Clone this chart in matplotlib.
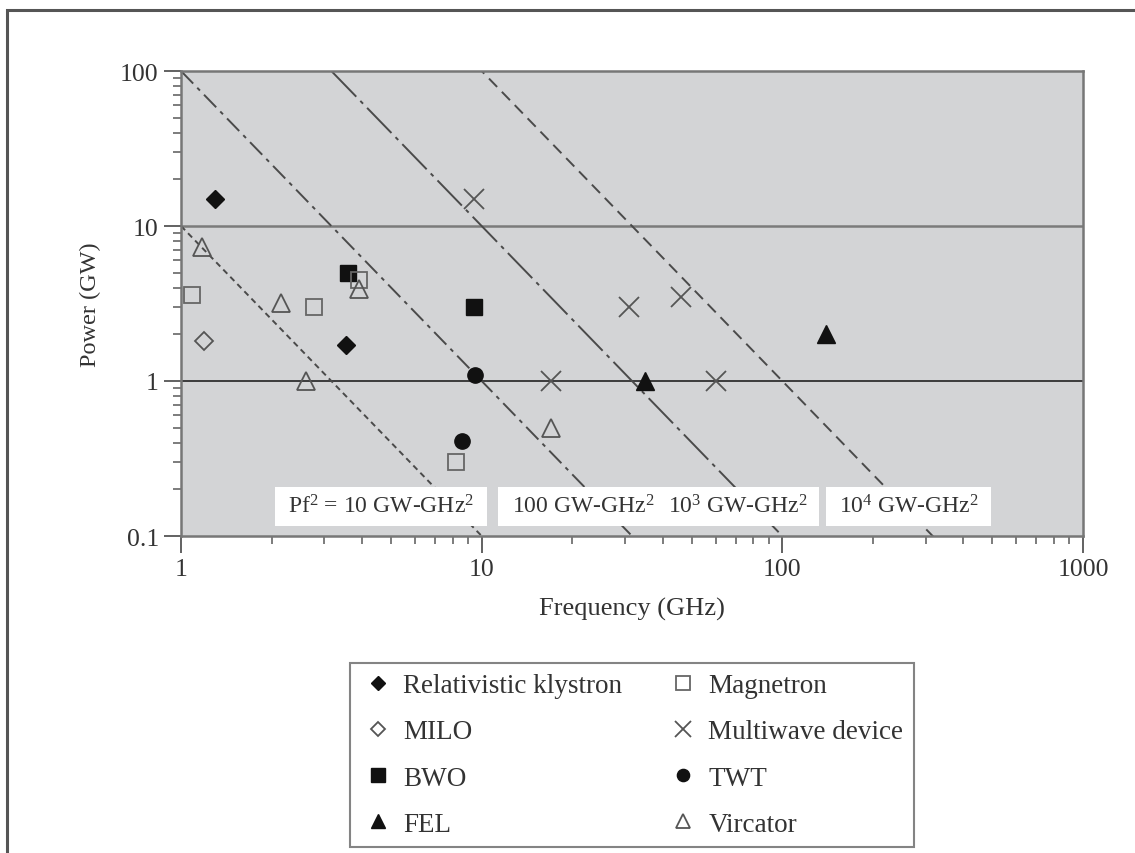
import numpy as np
import matplotlib
matplotlib.use("Agg")
import matplotlib.pyplot as plt
from matplotlib.patches import Rectangle

plt.rcParams['font.family'] = ['Liberation Serif', 'DejaVu Serif']
plt.rcParams['mathtext.fontset'] = 'custom'
plt.rcParams['mathtext.rm'] = 'Liberation Serif'
plt.rcParams['mathtext.it'] = 'Liberation Serif:italic'

# ---- data (frequency GHz, power GW) ----
klystron_f = [1.3, 3.55]
klystron_p = [15, 1.7]
milo_f = [1.19]
milo_p = [1.8]
bwo_f = [3.6, 9.4]
bwo_p = [5.0, 3.0]
fel_f = [35, 140]
fel_p = [1.0, 2.0]
magnetron_f = [1.09, 2.77, 3.9, 8.2]
magnetron_p = [3.6, 3.0, 4.5, 0.3]
multiwave_f = [9.4, 31, 46, 17, 60]
multiwave_p = [15, 3.0, 3.5, 1.0, 1.0]
twt_f = [9.5, 8.6]
twt_p = [1.1, 0.41]
vircator_f = [1.17, 2.15, 2.6, 3.9, 17]
vircator_p = [7.3, 3.2, 1.0, 3.9, 0.5]

pf2_constants = [10, 100, 1000, 10000]
pf2_labels = [r'Pf$^2$ = 10 GW-GHz$^2$', r'100 GW-GHz$^2$',
              r'10$^3$ GW-GHz$^2$', r'10$^4$ GW-GHz$^2$']
x_ticks = [1, 10, 100, 1000]
y_ticks = [0.1, 1, 10, 100]
x_ticklabels = ['1', '10', '100', '1000']
y_ticklabels = ['0.1', '1', '10', '100']

fig = plt.figure(figsize=(11.35, 8.54), dpi=100)
ax = fig.add_axes([181/1135, 1-537/854, 902/1135, 465/854])
ax.set_facecolor('#d3d4d6')
ax.set_xscale('log')
ax.set_yscale('log')
ax.set_xlim(1, 1000)
ax.set_ylim(0.1, 100)

# constant Pf^2 lines
styles = [(0, (3, 2.2)), (0, (9, 3, 2, 3)), (0, (18, 3, 2, 3)), (0, (6, 3.5))]
f_line = np.array([1.0, 1000.0])
for c, ls in zip(pf2_constants, styles):
    ax.plot(f_line, c / f_line**2, color='#4a4a4a', lw=1.4, linestyle=ls, zorder=2)

# horizontal reference lines
ax.axhline(10, color='#7b7b7b', lw=1.8, zorder=1.5)
ax.axhline(1, color='#222222', lw=1.2, zorder=1.5)

# label boxes
boxes = [(0.104, 0.339), (0.351, 0.707), (0.715, 0.898)]
for x0, x1 in boxes:
    ax.add_patch(Rectangle((x0, 0.0215), x1 - x0, 0.084, transform=ax.transAxes,
                           facecolor='white', edgecolor='none', zorder=3))
label_x = [0.222, 0.446, 0.617, 0.807]
for lx, lab in zip(label_x, pf2_labels):
    ax.text(lx, 0.064, lab, transform=ax.transAxes, ha='center', va='center',
            fontsize=17, color='#333333', zorder=4)

mk = dict(linestyle='none', zorder=5)
ax.plot(klystron_f, klystron_p, marker='D', ms=9.5, color='#111111', mec='#111111', label='Relativistic klystron', **mk)
ax.plot(milo_f, milo_p, marker='D', ms=9.5, mfc='none', mec='#555555', mew=1.3, label='MILO', **mk)
ax.plot(bwo_f, bwo_p, marker='s', ms=12, color='#111111', mec='#111111', label='BWO', **mk)
ax.plot(fel_f, fel_p, marker='^', ms=13, color='#111111', mec='#111111', label='FEL', **mk)
ax.plot(magnetron_f, magnetron_p, marker='s', ms=12, mfc='none', mec='#666666', mew=1.3, label='Magnetron', **mk)
ax.plot(multiwave_f, multiwave_p, marker='x', ms=14, color='#555555', mew=1.3, label='Multiwave device', **mk)
ax.plot(twt_f, twt_p, marker='o', ms=11, color='#111111', mec='#111111', label='TWT', **mk)
ax.plot(vircator_f, vircator_p, marker='^', ms=13, mfc='none', mec='#555555', mew=1.3, label='Vircator', **mk)

# axes styling
for s in ax.spines.values():
    s.set_color('#777777')
    s.set_linewidth(1.8)
ax.set_xticks(x_ticks)
ax.set_xticklabels(x_ticklabels)
ax.set_yticks(y_ticks)
ax.set_yticklabels(y_ticklabels)
ax.tick_params(which='major', direction='out', length=12, width=1.3, color='#555555',
               labelsize=18.5, labelcolor='#333333', pad=4)
ax.tick_params(which='minor', direction='out', length=6, width=1.2, color='#666666')
ax.set_xlabel('Frequency (GHz)', fontsize=19, color='#333333', labelpad=12)
ax.set_ylabel('Power (GW)', fontsize=17.5, color='#333333', labelpad=14)

# legend
handles, labels = ax.get_legend_handles_labels()
leg = fig.legend(handles, labels, ncol=2, loc='center', bbox_to_anchor=(0.5568, 0.1148),
                 fontsize=19.5, frameon=True, fancybox=False, markerscale=0.8,
                 handlelength=1.3, handletextpad=0.28, columnspacing=1.6,
                 labelspacing=0.78, borderpad=0.38, borderaxespad=0)
leg.get_frame().set_edgecolor('#666666')
leg.get_frame().set_linewidth(1.5)
for t in leg.get_texts():
    t.set_color('#333333')

# outer frame (extends beyond the image to right and bottom)
fig.add_artist(Rectangle((7/1135, -0.1), 1.2, 1 - 11/854 + 0.1, transform=fig.transFigure,
                         facecolor='none', edgecolor='#555555', linewidth=2.2))

fig.savefig('out.png', dpi=100)
